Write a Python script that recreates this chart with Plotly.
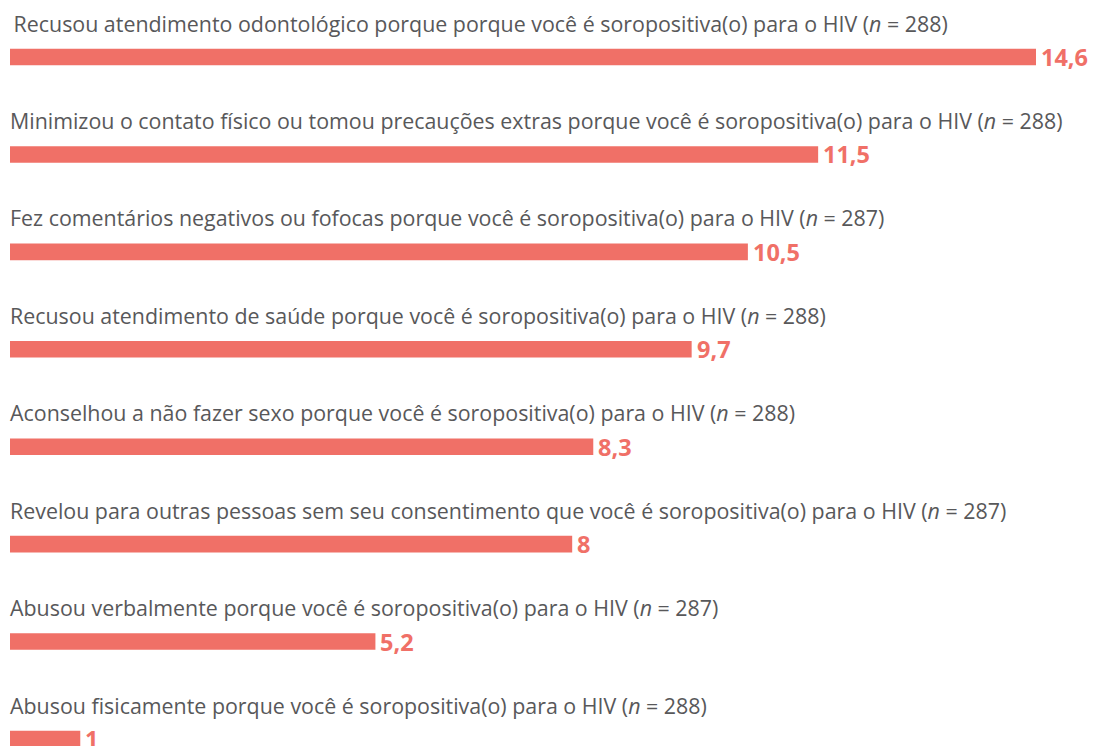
import plotly.graph_objects as go

labels = [
    "\u2009Recusou atendimento odontológico porque porque você é soropositiva(o) para o HIV (<i>n</i> = 288)",
    "Minimizou o contato físico ou tomou precauções extras porque você é soropositiva(o) para o HIV (<i>n</i> = 288)",
    "Fez comentários negativos ou fofocas porque você é soropositiva(o) para o HIV (<i>n</i> = 287)",
    "Recusou atendimento de saúde porque você é soropositiva(o) para o HIV (<i>n</i> = 288)",
    "Aconselhou a não fazer sexo porque você é soropositiva(o) para o HIV (<i>n</i> = 288)",
    "Revelou para outras pessoas sem seu consentimento que você é soropositiva(o) para o HIV (<i>n</i> = 287)",
    "Abusou verbalmente porque você é soropositiva(o) para o HIV (<i>n</i> = 287)",
    "Abusou fisicamente porque você é soropositiva(o) para o HIV (<i>n</i> = 288)",
]
values = [14.6, 11.5, 10.5, 9.7, 8.3, 8, 5.2, 1]
value_text = ["14,6", "11,5", "10,5", "9,7", "8,3", "8", "5,2", "1"]

BAR = "#F07067"
TXT = "#58585A"
FONT = "Open Sans"

pos = list(range(len(values)))

fig = go.Figure(go.Bar(
    x=values, y=pos, orientation="h",
    marker=dict(color=BAR, line=dict(width=0)),
    width=0.17, hoverinfo="skip",
))

for i, (lab, v, vt) in enumerate(zip(labels, values, value_text)):
    fig.add_annotation(x=0, y=i, xref="x", yref="y", text=lab, showarrow=False,
                       xanchor="left", yanchor="middle", yshift=34, xshift=-2,
                       font=dict(family=FONT, size=21.4, color=TXT))
    fig.add_annotation(x=v, y=i, xref="x", yref="y", text="<b>" + vt + "</b>", showarrow=False,
                       xanchor="left", yanchor="middle", xshift=3, yshift=0,
                       font=dict(family=FONT, size=23.5, color=BAR))

# page body has an 8px margin, so the figure is sized to fit the 1097x746 window
W, H = 1089, 738
fig.update_layout(
    width=W, height=H,
    margin=dict(l=2, r=0, t=0, b=0),
    paper_bgcolor="white", plot_bgcolor="white",
    showlegend=False,
    xaxis=dict(range=[0, 1087 / 1026 * 14.6], visible=False, fixedrange=True),
    yaxis=dict(range=[7 + (738 - 731) / 97.43, -49 / 97.43], visible=False, fixedrange=True),
)

fig.write_html("out.html")
